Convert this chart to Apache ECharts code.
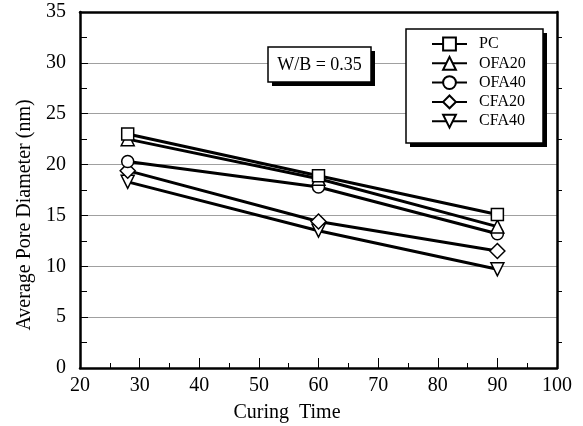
<!DOCTYPE html>
<html>
<head>
<meta charset="utf-8">
<script src="https://cdn.jsdelivr.net/npm/echarts@6/dist/echarts.min.js"></script>
<style>
html,body{margin:0;padding:0;background:#fff;}
#chart{width:583px;height:426px;}
</style>
</head>
<body>
<div id="chart"></div>
<script>
var curingTimes = [28, 60, 90];
var seriesNames = ['PC', 'OFA20', 'OFA40', 'CFA20', 'CFA40'];
var pcValues    = [23.0, 18.9, 15.1];
var ofa20Values = [22.5, 18.6, 13.9];
var ofa40Values = [20.3, 17.8, 13.2];
var cfa20Values = [19.4, 14.4, 11.5];
var cfa40Values = [18.3, 13.5, 9.7];
var xTicks = [20, 30, 40, 50, 60, 70, 80, 90, 100];
var yTicks = [0, 5, 10, 15, 20, 25, 30, 35];

var FONT = 'Liberation Serif';
var allValues = [pcValues, ofa20Values, ofa40Values, cfa20Values, cfa40Values];
var symbols = ['rect', 'triangle', 'circle', 'diamond', 'triangle'];
var rotates = [0, 0, 0, 0, 180];
var sizes = [12, 13, 12, 15, 13];

function pairs(vals) {
  return curingTimes.map(function (t, i) { return [t, vals[i]]; });
}

var series = seriesNames.map(function (name, k) {
  return {
    name: name,
    type: 'line',
    data: pairs(allValues[k]),
    symbol: symbols[k],
    symbolRotate: rotates[k],
    symbolSize: sizes[k],
    showAllSymbol: true,
    z: 10 - k,
    lineStyle: { color: '#000', width: 3 },
    itemStyle: { color: '#fff', borderColor: '#000', borderWidth: 1.5 },
    emphasis: { disabled: true },
    animation: false
  };
});

var chart = echarts.init(document.getElementById('chart'), null, { renderer: 'canvas' });
chart.setOption({
  animation: false,
  backgroundColor: '#fff',
  grid: { left: 80, right: 26, top: 12, bottom: 58, containLabel: false },
  xAxis: [{
    type: 'value',
    min: xTicks[0], max: xTicks[xTicks.length - 1], interval: 10,
    axisLine: { show: true, lineStyle: { color: '#000', width: 2.5 } },
    axisTick: { show: true, inside: true, length: 10, lineStyle: { color: '#000', width: 1 } },
    minorTick: { show: true, splitNumber: 2, length: 5, lineStyle: { color: '#000', width: 1 } },
    axisLabel: { color: '#000', fontFamily: FONT, fontSize: 20, margin: 8 },
    splitLine: { show: false }
  }, {
    type: 'value', position: 'top',
    min: xTicks[0], max: xTicks[xTicks.length - 1], interval: 10,
    axisLine: { show: true, onZero: false, lineStyle: { color: '#000', width: 2.5 } },
    axisTick: { show: false }, axisLabel: { show: false }, splitLine: { show: false }
  }],
  yAxis: [{
    type: 'value',
    min: yTicks[0], max: yTicks[yTicks.length - 1], interval: 5,
    axisLine: { show: true, lineStyle: { color: '#000', width: 2.5 } },
    axisTick: { show: true, inside: true, length: 8, lineStyle: { color: '#000', width: 1 } },
    minorTick: { show: true, splitNumber: 2, length: 7, lineStyle: { color: '#000', width: 1 } },
    axisLabel: { color: '#000', fontFamily: FONT, fontSize: 20, margin: 14 },
    splitLine: { show: true, lineStyle: { color: '#a0a0a0', width: 1 } }
  }, {
    type: 'value', position: 'right',
    min: yTicks[0], max: yTicks[yTicks.length - 1], interval: 5,
    axisLine: { show: true, onZero: false, lineStyle: { color: '#000', width: 2.5 } },
    axisTick: { show: false },
    minorTick: { show: true, splitNumber: 2, length: 5, lineStyle: { color: '#000', width: 1 } },
    axisLabel: { show: false }, splitLine: { show: false }
  }],
  legend: {
    data: seriesNames,
    orient: 'vertical',
    left: 431, top: 36,
    itemWidth: 35, itemHeight: 16, itemGap: 3.3,
    padding: 0,
    z: 30,
    textStyle: { color: '#000', fontFamily: FONT, fontSize: 16, padding: [0, 0, 0, 7] },
    selectedMode: false
  },
  graphic: [
    { type: 'rect', z: 20, shape: { x: 410, y: 33, width: 137, height: 114 }, style: { fill: '#000' } },
    { type: 'rect', z: 21, shape: { x: 406, y: 29, width: 137, height: 114 }, style: { fill: '#fff', stroke: '#000', lineWidth: 1.5 } },
    { type: 'rect', z: 20, shape: { x: 272, y: 51, width: 103, height: 35 }, style: { fill: '#000' } },
    { type: 'rect', z: 21, shape: { x: 268, y: 47, width: 103, height: 35 }, style: { fill: '#fff', stroke: '#000', lineWidth: 1.5 } },
    { type: 'text', z: 22, x: 319.5, y: 65, style: { text: 'W/B = 0.35', fill: '#000', font: '18px "Liberation Serif"', align: 'center', verticalAlign: 'middle' } },
    { type: 'text', z: 22, x: 287, y: 413, style: { text: 'Curing  Time', fill: '#000', font: '20px "Liberation Serif"', align: 'center', verticalAlign: 'middle' } },
    { type: 'text', z: 22, x: 25, y: 215, rotation: Math.PI / 2, style: { text: 'Average Pore Diameter (nm)', fill: '#000', font: '20px "Liberation Serif"', align: 'center', verticalAlign: 'middle' } }
  ],
  series: series
});
</script>
</body>
</html>
